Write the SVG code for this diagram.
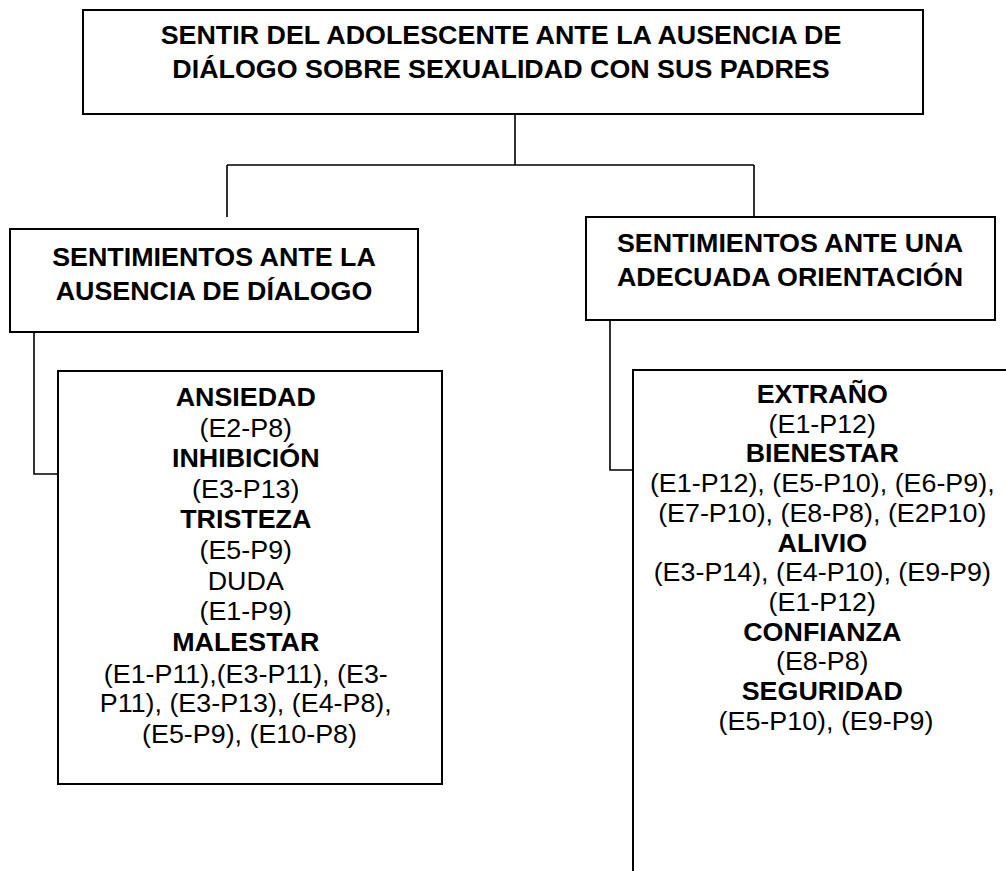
<svg xmlns="http://www.w3.org/2000/svg" width="1006" height="871" viewBox="0 0 1006 871">
<style>
.box{fill:#fff;stroke:#000;stroke-width:2}
.con{fill:none;stroke:#000;stroke-width:1.6}
text{font-family:"Liberation Sans",Arial,sans-serif;font-size:25.2px;fill:#000;text-anchor:middle}
.b{font-weight:bold}
</style>
<rect width="1006" height="871" fill="#fff"/>
<g id="connectors">
<path class="con" d="M515,114 V165 M227,165 H754 M227,165 V217 M754,165 V217"/>
<path class="con" d="M34,332 V474 H58"/>
<path class="con" d="M610,320 V470 H633"/>
</g>
<g id="root">
<rect class="box" x="83" y="10" width="840" height="104"/>
<text class="b" transform="translate(501 0) scale(1.066 1)"><tspan x="0" y="44">SENTIR DEL ADOLESCENTE ANTE LA AUSENCIA DE</tspan><tspan x="0" y="78">DIÁLOGO SOBRE SEXUALIDAD CON SUS PADRES</tspan></text>
</g>
<g id="left-header">
<rect class="box" x="10" y="229" width="408" height="103"/>
<text class="b" transform="translate(214 0) scale(1.066 1)"><tspan x="0" y="266">SENTIMIENTOS ANTE LA</tspan><tspan x="0" y="300">AUSENCIA DE DÍALOGO</tspan></text>
</g>
<g id="right-header">
<rect class="box" x="586" y="217" width="409" height="103"/>
<text class="b" transform="translate(790 0) scale(1.066 1)"><tspan x="0" y="252">SENTIMIENTOS ANTE UNA</tspan><tspan x="0" y="286">ADECUADA ORIENTACIÓN</tspan></text>
</g>
<g id="left-body">
<rect class="box" x="58" y="371" width="384" height="413"/>
<text transform="translate(249.5 0) scale(1.066 1)">
<tspan class="b" x="0" y="406">ANSIEDAD</tspan>
<tspan x="0" y="436.6">(E2-P8)</tspan>
<tspan class="b" x="0" y="467.3">INHIBICIÓN</tspan>
<tspan x="0" y="497.9">(E3-P13)</tspan>
<tspan class="b" x="0" y="528.5">TRISTEZA</tspan>
<tspan x="0" y="559.2">(E5-P9)</tspan>
<tspan x="0" y="589.8">DUDA</tspan>
<tspan x="0" y="620.4">(E1-P9)</tspan>
<tspan class="b" x="0" y="651.1">MALESTAR</tspan>
<tspan x="0" y="682.7">(E1-P11),(E3-P11), (E3-</tspan>
<tspan x="0" y="712.5">P11), (E3-P13), (E4-P8),</tspan>
<tspan x="0" y="743">(E5-P9), (E10-P8)</tspan>
</text>
</g>
<g id="right-body">
<rect class="box" x="633" y="370" width="420" height="560"/>
<text transform="translate(826 0) scale(1.066 1)">
<tspan class="b" x="0" y="403">EXTRAÑO</tspan>
<tspan x="0" y="432.7">(E1-P12)</tspan>
<tspan class="b" x="0" y="462.5">BIENESTAR</tspan>
<tspan x="0" y="492.2">(E1-P12), (E5-P10), (E6-P9),</tspan>
<tspan x="0" y="521.9">(E7-P10), (E8-P8), (E2P10)</tspan>
<tspan class="b" x="0" y="551.6">ALIVIO</tspan>
<tspan x="0" y="581.4">(E3-P14), (E4-P10), (E9-P9)</tspan>
<tspan x="0" y="611.1">(E1-P12)</tspan>
<tspan class="b" x="0" y="640.8">CONFIANZA</tspan>
<tspan x="0" y="670.5">(E8-P8)</tspan>
<tspan class="b" x="0" y="700.3">SEGURIDAD</tspan>
<tspan x="0" y="730">(E5-P10), (E9-P9)</tspan>
</text>
</g>
</svg>
